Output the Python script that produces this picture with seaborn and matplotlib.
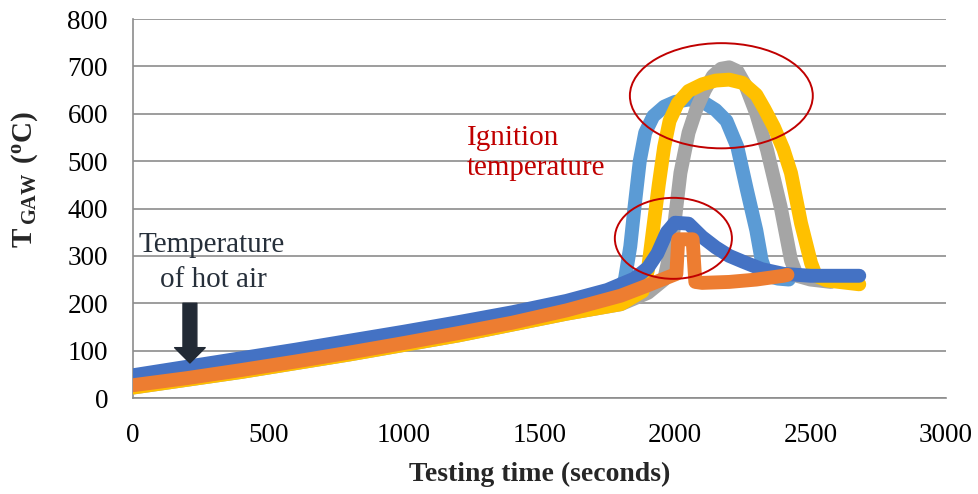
import numpy as np
import pandas as pd
import matplotlib
matplotlib.use("Agg")
import matplotlib.pyplot as plt
import seaborn as sns
from matplotlib.patches import Ellipse

# ---------------- data ----------------
t_lightblue = [0, 400, 800, 1200, 1600, 1780, 1815, 1835, 1850, 1870, 1890, 1920, 1960, 2000,
               2050, 2100, 2150, 2190, 2230, 2265, 2300, 2320, 2340, 2380, 2420]
T_lightblue = [25, 58, 95, 135, 182, 215, 250, 320, 400, 500, 560, 595, 615, 625,
               630, 626, 608, 585, 530, 440, 354, 290, 258, 252, 250]

t_gray = [0, 400, 800, 1200, 1600, 1800, 1900, 1960, 1990, 2020, 2050, 2080, 2110, 2140,
          2170, 2200, 2230, 2260, 2300, 2340, 2390, 2428, 2450, 2500, 2575]
T_gray = [22, 55, 92, 132, 178, 198, 222, 250, 330, 475, 560, 612, 650, 680,
          695, 698, 690, 660, 600, 523, 403, 291, 258, 250, 245]

t_yellow = [0, 400, 800, 1200, 1600, 1800, 1880, 1900, 1920, 1940, 1960, 1980, 2010, 2050,
            2100, 2150, 2200, 2250, 2300, 2330, 2365, 2400, 2428, 2465, 2502, 2520, 2560, 2680]
T_yellow = [22, 55, 92, 132, 178, 198, 225, 270, 360, 450, 530, 585, 622, 648,
            662, 670, 672, 665, 640, 610, 572, 525, 475, 369, 285, 258, 248, 240]

t_darkblue = [0, 200, 400, 600, 800, 1000, 1200, 1400, 1600, 1750, 1850, 1900, 1935, 1970,
              2000, 2050, 2100, 2150, 2200, 2250, 2320, 2400, 2500, 2680]
T_darkblue = [48, 66, 84, 102, 121, 140, 160, 181, 205, 228, 252, 275, 305, 350,
              370, 368, 340, 318, 300, 288, 272, 262, 258, 258]

t_orange = [0, 200, 400, 600, 800, 1000, 1200, 1400, 1600, 1800, 1900, 2005, 2012, 2065,
            2075, 2100, 2200, 2300, 2400, 2415]
T_orange = [27, 42, 59, 77, 96, 116, 137, 159, 185, 216, 238, 262, 335, 335,
            245, 243, 245, 250, 258, 260]

series_names = ["light blue", "gray", "yellow", "dark blue", "orange"]
series_colors = ["#5B9BD5", "#A5A5A5", "#FFC000", "#4472C4", "#ED7D31"]

x_ticks = [0, 500, 1000, 1500, 2000, 2500, 3000]
y_ticks = [0, 100, 200, 300, 400, 500, 600, 700, 800]

# annotation ellipses: (center t, center T, width s, height degC)
ellipse_peak = (2171, 638, 675, 222)
ellipse_ign = (1994, 337, 432, 171)

# ---------------- build long-form table ----------------
frames = []
for name, tt, TT in zip(series_names,
                        [t_lightblue, t_gray, t_yellow, t_darkblue, t_orange],
                        [T_lightblue, T_gray, T_yellow, T_darkblue, T_orange]):
    frames.append(pd.DataFrame({"t": tt, "T": TT, "series": name}))
df = pd.concat(frames, ignore_index=True)

sns.set_theme(style="white")
plt.rcParams["font.family"] = ["Liberation Serif", "DejaVu Serif"]
plt.rcParams["mathtext.fontset"] = "custom"
plt.rcParams["mathtext.rm"] = "Liberation Serif"
plt.rcParams["mathtext.bf"] = "Liberation Serif:bold"

fig = plt.figure(figsize=(9.79, 4.94), dpi=100)
ax = fig.add_axes([133 / 979, 1 - 398 / 494, (946 - 133) / 979, (398 - 19) / 494])

sns.lineplot(data=df, x="t", y="T", hue="series", hue_order=series_names,
             palette=series_colors, linewidth=10, sort=False, estimator=None,
             legend=False, ax=ax, zorder=3)

ax.set_xlim(0, 3000)
ax.set_ylim(0, 800)
ax.set_xticks(x_ticks)
ax.set_yticks(y_ticks)
ax.tick_params(axis="both", length=0, labelsize=19.5, colors="#000000")
ax.tick_params(axis="x", pad=18)
ax.tick_params(axis="y", pad=18)
ax.grid(axis="y", color="#8C8C8C", linewidth=1.2)
ax.grid(axis="x", visible=False)
ax.set_axisbelow(True)
for s in ["top", "right"]:
    ax.spines[s].set_visible(False)
for s in ["left", "bottom"]:
    ax.spines[s].set_color("#8C8C8C")
    ax.spines[s].set_linewidth(1.2)

ax.set_xlabel("Testing time (seconds)", fontsize=20, fontweight="bold", labelpad=10)
ax.set_ylabel("")
fig.text(25 / 979, 1 - 180 / 494, r"$\mathbf{T}_{\mathbf{\,GAW}}\ \mathbf{(^{o}C)}$",
         rotation=90, ha="center", va="center", fontsize=21)

# ellipses
for (cx, cy, w, h) in [ellipse_peak, ellipse_ign]:
    ax.add_patch(Ellipse((cx, cy), w, h, fill=False, edgecolor="#C00000",
                         linewidth=1.4, zorder=5))

ax.text(1232, 534, "Ignition", color="#C00000", fontsize=21, ha="left", va="baseline")
ax.text(1232, 470, "temperature", color="#C00000", fontsize=21, ha="left", va="baseline")

ax.text(291, 308, "Temperature", color="#262F3A", fontsize=21, ha="center", va="baseline")
ax.text(295, 234, "of hot air", color="#262F3A", fontsize=21, ha="center", va="baseline")

ax.annotate("", xy=(210, 74), xytext=(210, 200),
            arrowprops=dict(arrowstyle="simple,head_width=1.1,head_length=0.55,tail_width=0.5",
                            mutation_scale=20, color="#222A35", shrinkA=0, shrinkB=0),
            zorder=6)

fig.savefig("out.png", dpi=100)
